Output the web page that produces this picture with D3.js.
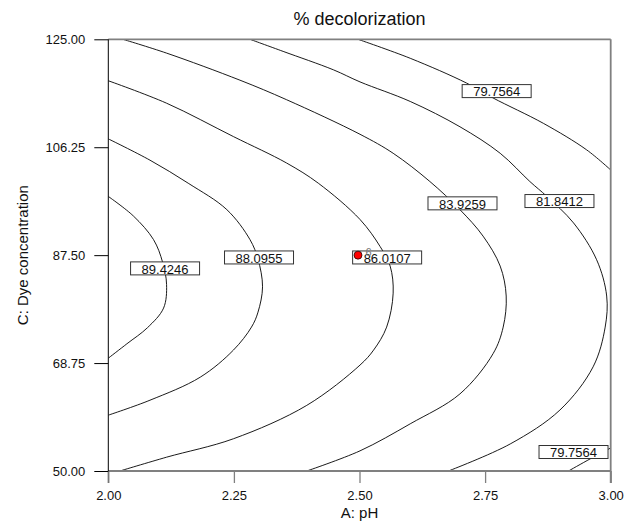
<!DOCTYPE html>
<html>
<head>
<meta charset="utf-8">
<script src="https://cdn.jsdelivr.net/npm/d3@7"></script>
<style>
  body { margin: 0; background: #fff; }
  text { font-family: Arial, "Liberation Sans", sans-serif; }
</style>
</head>
<body>
<div id="chart"></div>
<script>
// values (pH, dye concentration)
var chartTitle = "% decolorization";
var xTitle = "A: pH";
var yTitle = "C: Dye concentration";
var xTicks = [2.00, 2.25, 2.50, 2.75, 3.00];
var yTicks = [50.00, 68.75, 87.50, 106.25, 125.00];

var levels = ["89.4246", "88.0955", "86.0107", "83.9259", "81.8412", "79.7564", "79.7564"];

var line894 = [[2.000,97.7],[2.050,94.3],[2.090,90.2],[2.108,86.3],[2.116,82.4],[2.110,78.3],[2.078,74.9],[2.037,72.1],[2.000,69.6]];
var line881 = [[2.000,107.7],[2.083,104.0],[2.159,100.0],[2.236,95.4],[2.282,90.2],[2.298,86.8],[2.307,82.0],[2.298,77.6],[2.285,75.0],[2.249,71.0],[2.183,66.3],[2.083,62.3],[2.000,59.7]];
var line860 = [[2.000,117.8],[2.116,113.9],[2.249,108.1],[2.355,103.5],[2.418,100.0],[2.501,93.7],[2.541,89.0],[2.561,85.6],[2.567,80.9],[2.554,75.0],[2.528,71.0],[2.501,68.4],[2.395,61.4],[2.249,55.6],[2.116,52.4],[2.023,50.0]];
var line839 = [[2.029,125.0],[2.116,122.6],[2.262,117.9],[2.355,114.5],[2.501,108.5],[2.567,105.2],[2.640,100.3],[2.700,95.4],[2.746,90.8],[2.780,85.6],[2.792,80.4],[2.786,75.0],[2.766,70.4],[2.700,63.4],[2.601,58.2],[2.501,53.5],[2.395,50.0]];
var line818 = [[2.282,125.0],[2.348,122.9],[2.448,119.7],[2.501,117.6],[2.601,114.2],[2.700,109.8],[2.780,105.2],[2.839,100.3],[2.873,97.7],[2.926,93.1],[2.972,86.7],[2.992,80.4],[2.989,75.0],[2.965,68.1],[2.899,60.6],[2.800,54.7],[2.677,50.0]];
var line798a = [[2.497,125.0],[2.601,121.7],[2.713,117.4],[2.766,114.8],[2.866,110.4],[2.952,105.8],[3.000,102.3]];
var line798b = [[2.916,50.0],[2.959,52.1],[3.000,54.0]];

// where each level label sits (pH, concentration)
var labelPH   = [2.113, 2.300, 2.555, 2.705, 2.898, 2.773, 2.926];
var labelConc = [85.2, 87.1, 87.1, 96.5, 96.9, 116.0, 53.3];

// design point with replicate count
var pointPH = [2.50];
var pointConc = [87.50];
var pointRuns = ["6"];

var width = 634, height = 532;
var margin = {top: 39.3, right: 23.3, bottom: 61, left: 108.3};

var svg = d3.select("#chart")
    .append("svg")
    .attr("width", width)
    .attr("height", height)

var x = d3.scaleLinear().domain([2, 3]).range([margin.left, width - margin.right]);
var y = d3.scaleLinear().domain([50, 125]).range([height - margin.bottom, margin.top]);

svg.append("clipPath").attr("id", "plot-clip")
    .append("rect")
    .attr("x", x(2)).attr("y", y(125))
    .attr("width", x(3) - x(2)).attr("height", y(50) - y(125));

//contours
var contourLines = [line894, line881, line860, line839, line818, line798a, line798b];
var line = d3.line()
    .x(d => x(d[0]))
    .y(d => y(d[1]))
    .curve(d3.curveCatmullRom.alpha(0.5));

svg.append("g")
    .attr("clip-path", "url(#plot-clip)")
    .selectAll("path.contour")
    .data(contourLines)
    .enter()
    .append("path")
    .classed("contour", true)
    .attr("d", line)
    .style("fill", "none")
    .style("stroke", "#000")
    .style("stroke-width", 0.9)

//frame
var frame = svg.append("g");
frame.append("line").attr("x1", x(2)).attr("x2", x(3)).attr("y1", y(125)).attr("y2", y(125))
    .style("stroke", "#808080").style("stroke-width", 1.8);
frame.append("line").attr("x1", x(2)).attr("x2", x(3)).attr("y1", y(50)).attr("y2", y(50))
    .style("stroke", "#808080").style("stroke-width", 1.8);
frame.append("line").attr("x1", x(3)).attr("x2", x(3)).attr("y1", y(125)).attr("y2", y(50) + 12)
    .style("stroke", "#808080").style("stroke-width", 1.8);

//axes
var xAxis = svg.append("g")
    .attr("transform", "translate(0," + y(50) + ")")
    .call(d3.axisBottom(x).tickValues(xTicks).tickFormat(d3.format(".2f")).tickSize(12).tickPadding(8));
xAxis.select(".domain").remove();
xAxis.selectAll(".tick line").style("stroke", "#808080").style("stroke-width", 1.3);
xAxis.selectAll(".tick text").style("font-size", "13px").style("fill", "#111");

var yAxis = svg.append("g")
    .attr("transform", "translate(" + x(2) + ",0)")
    .call(d3.axisLeft(y).tickValues(yTicks).tickFormat(d3.format(".2f")).tickSize(14).tickPadding(9));
yAxis.select(".domain").remove();
yAxis.selectAll(".tick line").style("stroke", "#000").style("stroke-width", 1);
yAxis.selectAll(".tick text").style("font-size", "13px").style("fill", "#111");

frame.append("line").attr("x1", x(2)).attr("x2", x(2)).attr("y1", y(125)).attr("y2", y(50) + 12)
    .style("stroke", "#000").style("stroke-width", 1);

//level labels
var labels = svg.append("g")
    .selectAll("g.level")
    .data(levels)
    .enter()
    .append("g")
    .classed("level", true)
    .attr("transform", (d, i) => "translate(" + x(labelPH[i]) + "," + y(labelConc[i]) + ")")

labels.append("rect")
    .attr("x", -34.5).attr("y", -6.5)
    .attr("width", 69).attr("height", 13)
    .style("fill", "#fff")
    .style("stroke", "#333")
    .style("stroke-width", 1)

labels.append("text")
    .attr("y", 5.3)
    .attr("text-anchor", "middle")
    .style("font-size", "13px")
    .style("fill", "#111")
    .text(d => d)

//design point
svg.selectAll("circle.design")
    .data(pointPH)
    .enter()
    .append("circle")
    .classed("design", true)
    .attr("cx", d => x(d) - 1.5)
    .attr("cy", (d, i) => y(pointConc[i]))
    .attr("r", 4)
    .style("fill", "#f00")
    .style("stroke", "#000")
    .style("stroke-width", 0.7)

svg.selectAll("text.runs")
    .data(pointRuns)
    .enter()
    .append("text")
    .classed("runs", true)
    .attr("x", (d, i) => x(pointPH[i]) + 6)
    .attr("y", (d, i) => y(pointConc[i]) + 1)
    .style("font-size", "11px")
    .style("fill", "#777")
    .text(d => d)

//titles
svg.append("text")
    .attr("x", (x(2) + x(3)) / 2)
    .attr("y", 25)
    .attr("text-anchor", "middle")
    .style("font-size", "18px")
    .style("fill", "#111")
    .text(chartTitle)

svg.append("text")
    .attr("x", (x(2) + x(3)) / 2)
    .attr("y", 518)
    .attr("text-anchor", "middle")
    .style("font-size", "15px")
    .style("fill", "#111")
    .text(xTitle)

svg.append("text")
    .attr("transform", "translate(28," + y(87.5) + ") rotate(-90)")
    .attr("text-anchor", "middle")
    .style("font-size", "15px")
    .style("fill", "#111")
    .text(yTitle)
</script>
</body>
</html>
